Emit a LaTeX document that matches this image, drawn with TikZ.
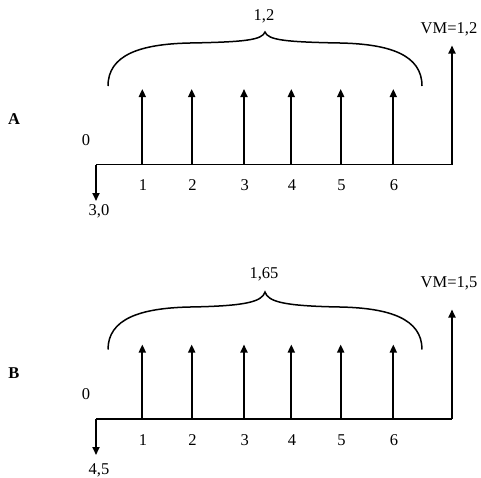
\documentclass[tikz,border=0pt]{standalone}
\usepackage{fontspec}
\setmainfont{Liberation Serif}
\usetikzlibrary{arrows.meta}
\begin{document}
\begin{tikzpicture}[x=1pt,y=-1pt,
  lbl/.style={font=\fontsize{16.5}{18}\selectfont, inner sep=0pt},
  flow/.style={line width=1.7pt, -{Triangle[length=8pt,width=7pt]}},
  axisline/.style={line width=1.8pt},
  bracecurve/.style={line width=1.5pt}]
\path[use as bounding box] (0,0) rectangle (481,477);
% ---------- A ----------
\coordinate (A0) at (96,164.5);
\coordinate (AE) at (452,164.5);
\draw[axisline] (A0) -- (AE);
\coordinate (Adown) at (96,201);
\draw[flow] (A0) -- (Adown);
\foreach \x/\i in {142.3/1,191.7/2,244/3,291.3/4,340.7/5,393.3/6}{
  \coordinate (Ab\i) at (\x,164.5);
  \coordinate (At\i) at (\x,89);
  \draw[flow] (Ab\i) -- (At\i);
  \node[lbl] (An\i) at (\x+0.8,185) {\i};
}
\coordinate (AVt) at (452,45.5);
\draw[flow] (AE) -- (AVt);
\draw[bracecurve] (108,86) .. controls (108,55) and (140,44) .. (190,43)
  .. controls (245,42) and (262,40) .. (265,32)
  .. controls (268,40) and (285,42) .. (340,43)
  .. controls (390,44) and (422,55) .. (422,86);
\node[lbl] (Abr) at (264,16) {1,2};
\node[lbl] (AVM) at (449,29) {VM=1,2};
\node[lbl, font=\fontsize{16.5}{18}\selectfont\bfseries] (AL) at (14,119) {A};
\node[lbl] (Az) at (86,140) {0};
\node[lbl] (Aneg) at (99,211.5) {3,0};
% ---------- B ----------
\coordinate (B0) at (96,419);
\coordinate (BE) at (452,419);
\draw[axisline] (B0) -- (BE);
\coordinate (Bdown) at (96,455);
\draw[flow] (B0) -- (Bdown);
\foreach \x/\i in {142.3/1,191.7/2,244/3,291.3/4,340.7/5,393.3/6}{
  \coordinate (Bb\i) at (\x,419);
  \coordinate (Bt\i) at (\x,344.5);
  \draw[flow] (Bb\i) -- (Bt\i);
  \node[lbl] (Bn\i) at (\x+0.8,440) {\i};
}
\coordinate (BVt) at (452,309.5);
\draw[flow] (BE) -- (BVt);
\draw[bracecurve] (108,349.5) .. controls (108,319) and (140,308) .. (190,307)
  .. controls (245,306) and (262,302) .. (265,292)
  .. controls (268,302) and (285,306) .. (340,307)
  .. controls (390,308) and (422,319) .. (422,349.5);
\node[lbl] (Bbr) at (264,274.5) {1,65};
\node[lbl] (BVM) at (449,283.5) {VM=1,5};
\node[lbl, font=\fontsize{16.5}{18}\selectfont\bfseries] (BL) at (14,373) {B};
\node[lbl] (Bz) at (86,394) {0};
\node[lbl] (Bneg) at (99,470.5) {4,5};
\end{tikzpicture}
\end{document}
